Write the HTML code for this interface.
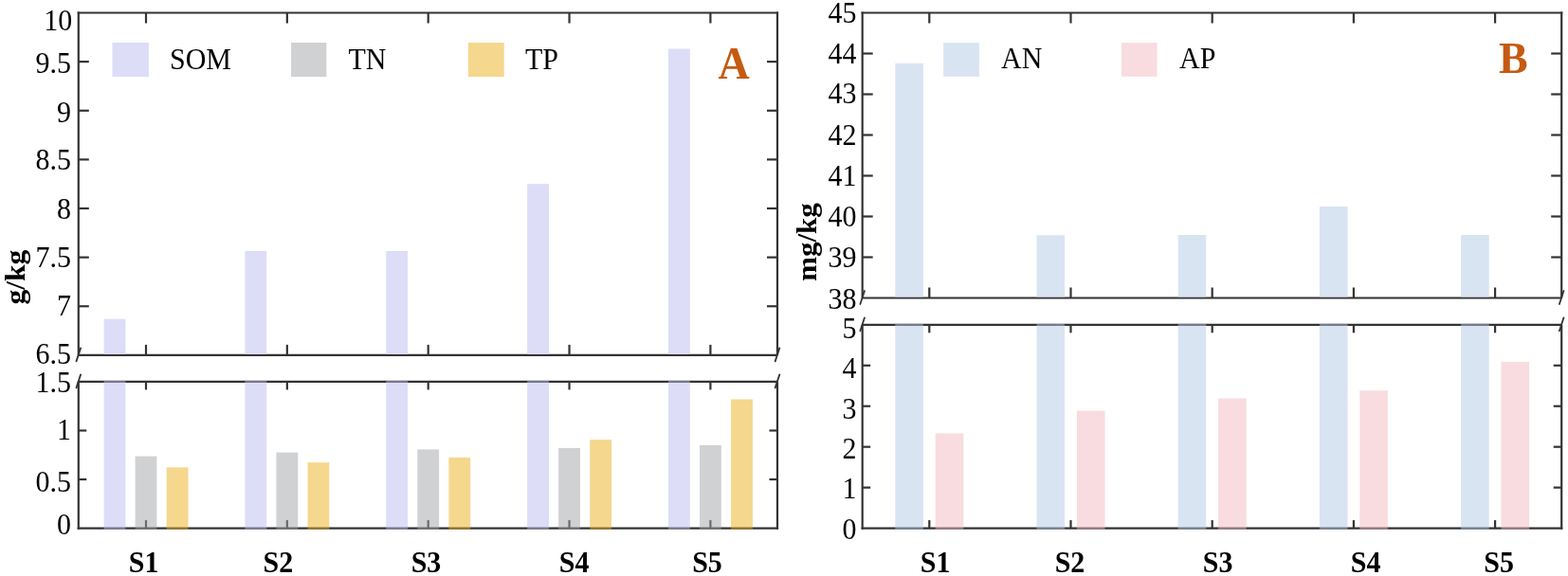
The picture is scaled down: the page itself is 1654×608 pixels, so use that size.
<!DOCTYPE html>
<html><head><meta charset="utf-8"><title>Soil nutrients</title>
<style>
html,body{margin:0;padding:0;background:#fff;}
body{width:1654px;height:608px;overflow:hidden;}
svg{display:block;}
text{font-family:"Liberation Serif","Times New Roman",serif;}
</style></head><body>
<svg width="1654" height="608" viewBox="0 0 1654 608" font-family="'Liberation Serif', 'Times New Roman', serif">
<rect width="1654" height="608" fill="#ffffff"/>
<line x1="82.80" y1="12.40" x2="82.80" y2="374.90" stroke="#333333" stroke-width="2.2" stroke-linecap="butt"/>
<line x1="820.00" y1="12.40" x2="820.00" y2="374.90" stroke="#333333" stroke-width="2.2" stroke-linecap="butt"/>
<line x1="81.70" y1="13.50" x2="821.10" y2="13.50" stroke="#333333" stroke-width="2.2" stroke-linecap="butt"/>
<line x1="82.80" y1="374.90" x2="820.00" y2="374.90" stroke="#333333" stroke-width="2.2" stroke-linecap="butt"/>
<line x1="82.80" y1="402.90" x2="82.80" y2="558.70" stroke="#333333" stroke-width="2.2" stroke-linecap="butt"/>
<line x1="820.00" y1="402.90" x2="820.00" y2="558.70" stroke="#333333" stroke-width="2.2" stroke-linecap="butt"/>
<line x1="82.80" y1="402.90" x2="820.00" y2="402.90" stroke="#333333" stroke-width="2.2" stroke-linecap="butt"/>
<line x1="81.70" y1="557.60" x2="821.10" y2="557.60" stroke="#333333" stroke-width="2.2" stroke-linecap="butt"/>
<line x1="154.00" y1="13.50" x2="154.00" y2="24.50" stroke="#333333" stroke-width="2.2" stroke-linecap="butt"/>
<line x1="154.00" y1="374.90" x2="154.00" y2="363.90" stroke="#333333" stroke-width="2.2" stroke-linecap="butt"/>
<line x1="154.00" y1="402.90" x2="154.00" y2="411.40" stroke="#333333" stroke-width="2.2" stroke-linecap="butt"/>
<line x1="154.00" y1="557.60" x2="154.00" y2="549.10" stroke="#333333" stroke-width="2.2" stroke-linecap="butt"/>
<line x1="302.85" y1="13.50" x2="302.85" y2="24.50" stroke="#333333" stroke-width="2.2" stroke-linecap="butt"/>
<line x1="302.85" y1="374.90" x2="302.85" y2="363.90" stroke="#333333" stroke-width="2.2" stroke-linecap="butt"/>
<line x1="302.85" y1="402.90" x2="302.85" y2="411.40" stroke="#333333" stroke-width="2.2" stroke-linecap="butt"/>
<line x1="302.85" y1="557.60" x2="302.85" y2="549.10" stroke="#333333" stroke-width="2.2" stroke-linecap="butt"/>
<line x1="451.70" y1="13.50" x2="451.70" y2="24.50" stroke="#333333" stroke-width="2.2" stroke-linecap="butt"/>
<line x1="451.70" y1="374.90" x2="451.70" y2="363.90" stroke="#333333" stroke-width="2.2" stroke-linecap="butt"/>
<line x1="451.70" y1="402.90" x2="451.70" y2="411.40" stroke="#333333" stroke-width="2.2" stroke-linecap="butt"/>
<line x1="451.70" y1="557.60" x2="451.70" y2="549.10" stroke="#333333" stroke-width="2.2" stroke-linecap="butt"/>
<line x1="600.55" y1="13.50" x2="600.55" y2="24.50" stroke="#333333" stroke-width="2.2" stroke-linecap="butt"/>
<line x1="600.55" y1="374.90" x2="600.55" y2="363.90" stroke="#333333" stroke-width="2.2" stroke-linecap="butt"/>
<line x1="600.55" y1="402.90" x2="600.55" y2="411.40" stroke="#333333" stroke-width="2.2" stroke-linecap="butt"/>
<line x1="600.55" y1="557.60" x2="600.55" y2="549.10" stroke="#333333" stroke-width="2.2" stroke-linecap="butt"/>
<line x1="749.40" y1="13.50" x2="749.40" y2="24.50" stroke="#333333" stroke-width="2.2" stroke-linecap="butt"/>
<line x1="749.40" y1="374.90" x2="749.40" y2="363.90" stroke="#333333" stroke-width="2.2" stroke-linecap="butt"/>
<line x1="749.40" y1="402.90" x2="749.40" y2="411.40" stroke="#333333" stroke-width="2.2" stroke-linecap="butt"/>
<line x1="749.40" y1="557.60" x2="749.40" y2="549.10" stroke="#333333" stroke-width="2.2" stroke-linecap="butt"/>
<line x1="82.80" y1="65.13" x2="93.80" y2="65.13" stroke="#333333" stroke-width="2.2" stroke-linecap="butt"/>
<line x1="820.00" y1="65.13" x2="809.00" y2="65.13" stroke="#333333" stroke-width="2.2" stroke-linecap="butt"/>
<line x1="82.80" y1="116.76" x2="93.80" y2="116.76" stroke="#333333" stroke-width="2.2" stroke-linecap="butt"/>
<line x1="820.00" y1="116.76" x2="809.00" y2="116.76" stroke="#333333" stroke-width="2.2" stroke-linecap="butt"/>
<line x1="82.80" y1="168.39" x2="93.80" y2="168.39" stroke="#333333" stroke-width="2.2" stroke-linecap="butt"/>
<line x1="820.00" y1="168.39" x2="809.00" y2="168.39" stroke="#333333" stroke-width="2.2" stroke-linecap="butt"/>
<line x1="82.80" y1="220.01" x2="93.80" y2="220.01" stroke="#333333" stroke-width="2.2" stroke-linecap="butt"/>
<line x1="820.00" y1="220.01" x2="809.00" y2="220.01" stroke="#333333" stroke-width="2.2" stroke-linecap="butt"/>
<line x1="82.80" y1="271.64" x2="93.80" y2="271.64" stroke="#333333" stroke-width="2.2" stroke-linecap="butt"/>
<line x1="820.00" y1="271.64" x2="809.00" y2="271.64" stroke="#333333" stroke-width="2.2" stroke-linecap="butt"/>
<line x1="82.80" y1="323.27" x2="93.80" y2="323.27" stroke="#333333" stroke-width="2.2" stroke-linecap="butt"/>
<line x1="820.00" y1="323.27" x2="809.00" y2="323.27" stroke="#333333" stroke-width="2.2" stroke-linecap="butt"/>
<line x1="82.80" y1="454.47" x2="91.30" y2="454.47" stroke="#333333" stroke-width="2.2" stroke-linecap="butt"/>
<line x1="820.00" y1="454.47" x2="811.50" y2="454.47" stroke="#333333" stroke-width="2.2" stroke-linecap="butt"/>
<line x1="82.80" y1="506.03" x2="91.30" y2="506.03" stroke="#333333" stroke-width="2.2" stroke-linecap="butt"/>
<line x1="820.00" y1="506.03" x2="811.50" y2="506.03" stroke="#333333" stroke-width="2.2" stroke-linecap="butt"/>
<line x1="85.10" y1="367.40" x2="80.50" y2="381.40" stroke="#333333" stroke-width="1.8" stroke-linecap="round"/>
<line x1="85.10" y1="395.40" x2="80.50" y2="409.40" stroke="#333333" stroke-width="1.8" stroke-linecap="round"/>
<line x1="822.30" y1="367.40" x2="817.70" y2="381.40" stroke="#333333" stroke-width="1.8" stroke-linecap="round"/>
<line x1="822.30" y1="395.40" x2="817.70" y2="409.40" stroke="#333333" stroke-width="1.8" stroke-linecap="round"/>
<rect x="109.60" y="336.70" width="22.80" height="37.10" fill="#DDDDF7"/>
<rect x="109.60" y="401.80" width="22.80" height="156.90" fill="#BBBBEF" fill-opacity="0.5"/>
<rect x="142.60" y="481.60" width="22.80" height="77.10" fill="#A1A3A7" fill-opacity="0.5"/>
<rect x="175.70" y="493.40" width="22.80" height="65.30" fill="#EBAF1B" fill-opacity="0.5"/>
<rect x="258.45" y="265.00" width="22.80" height="108.80" fill="#DDDDF7"/>
<rect x="258.45" y="401.80" width="22.80" height="156.90" fill="#BBBBEF" fill-opacity="0.5"/>
<rect x="291.45" y="477.60" width="22.80" height="81.10" fill="#A1A3A7" fill-opacity="0.5"/>
<rect x="324.55" y="488.20" width="22.80" height="70.50" fill="#EBAF1B" fill-opacity="0.5"/>
<rect x="407.30" y="265.00" width="22.80" height="108.80" fill="#DDDDF7"/>
<rect x="407.30" y="401.80" width="22.80" height="156.90" fill="#BBBBEF" fill-opacity="0.5"/>
<rect x="440.30" y="474.40" width="22.80" height="84.30" fill="#A1A3A7" fill-opacity="0.5"/>
<rect x="473.40" y="482.90" width="22.80" height="75.80" fill="#EBAF1B" fill-opacity="0.5"/>
<rect x="556.15" y="194.20" width="22.80" height="179.60" fill="#DDDDF7"/>
<rect x="556.15" y="401.80" width="22.80" height="156.90" fill="#BBBBEF" fill-opacity="0.5"/>
<rect x="589.15" y="472.90" width="22.80" height="85.80" fill="#A1A3A7" fill-opacity="0.5"/>
<rect x="622.25" y="464.10" width="22.80" height="94.60" fill="#EBAF1B" fill-opacity="0.5"/>
<rect x="705.00" y="51.50" width="22.80" height="322.30" fill="#DDDDF7"/>
<rect x="705.00" y="401.80" width="22.80" height="156.90" fill="#BBBBEF" fill-opacity="0.5"/>
<rect x="738.00" y="469.90" width="22.80" height="88.80" fill="#A1A3A7" fill-opacity="0.5"/>
<rect x="771.10" y="421.50" width="22.80" height="137.20" fill="#EBAF1B" fill-opacity="0.5"/>
<text transform="translate(76.20,31.85) scale(1,1.03)" font-size="30" text-anchor="end" font-weight="normal" fill="#000">10</text>
<text transform="translate(75.00,77.38) scale(1,1.03)" font-size="30" text-anchor="end" font-weight="normal" fill="#000">9.5</text>
<text transform="translate(75.00,128.71) scale(1,1.03)" font-size="30" text-anchor="end" font-weight="normal" fill="#000">9</text>
<text transform="translate(75.00,179.44) scale(1,1.03)" font-size="30" text-anchor="end" font-weight="normal" fill="#000">8.5</text>
<text transform="translate(75.00,230.66) scale(1,1.03)" font-size="30" text-anchor="end" font-weight="normal" fill="#000">8</text>
<text transform="translate(75.00,281.79) scale(1,1.03)" font-size="30" text-anchor="end" font-weight="normal" fill="#000">7.5</text>
<text transform="translate(75.00,333.12) scale(1,1.03)" font-size="30" text-anchor="end" font-weight="normal" fill="#000">7</text>
<text transform="translate(75.00,384.25) scale(1,1.03)" font-size="30" text-anchor="end" font-weight="normal" fill="#000">6.5</text>
<text transform="translate(75.00,413.55) scale(1,1.03)" font-size="30" text-anchor="end" font-weight="normal" fill="#000">1.5</text>
<text transform="translate(75.00,463.92) scale(1,1.03)" font-size="30" text-anchor="end" font-weight="normal" fill="#000">1</text>
<text transform="translate(75.00,519.08) scale(1,1.03)" font-size="30" text-anchor="end" font-weight="normal" fill="#000">0.5</text>
<text transform="translate(75.00,563.85) scale(1,1.03)" font-size="30" text-anchor="end" font-weight="normal" fill="#000">0</text>
<rect x="118.50" y="45.00" width="38.40" height="36.00" fill="#DDDDF7"/>
<rect x="307.10" y="45.00" width="37.20" height="36.00" fill="#D0D1D3"/>
<rect x="493.90" y="45.00" width="37.80" height="36.00" fill="#F5D78D"/>
<text transform="translate(179.00,72.50) scale(1,1.06)" font-size="30" text-anchor="start" font-weight="normal" fill="#000">SOM</text>
<text transform="translate(367.50,72.50) scale(1,1.06)" font-size="30" text-anchor="start" font-weight="normal" fill="#000">TN</text>
<text transform="translate(554.00,72.50) scale(1,1.06)" font-size="30" text-anchor="start" font-weight="normal" fill="#000">TP</text>
<text transform="translate(757.50,82.50) scale(1,1.04)" font-size="46" text-anchor="start" font-weight="bold" fill="#C55A11">A</text>
<text transform="translate(151.60,604.00) scale(1,1.06)" font-size="30" text-anchor="middle" font-weight="bold" fill="#000">S1</text>
<text transform="translate(293.40,604.00) scale(1,1.06)" font-size="30" text-anchor="middle" font-weight="bold" fill="#000">S2</text>
<text transform="translate(449.50,604.00) scale(1,1.06)" font-size="30" text-anchor="middle" font-weight="bold" fill="#000">S3</text>
<text transform="translate(605.60,604.00) scale(1,1.06)" font-size="30" text-anchor="middle" font-weight="bold" fill="#000">S4</text>
<text transform="translate(746.00,604.00) scale(1,1.06)" font-size="30" text-anchor="middle" font-weight="bold" fill="#000">S5</text>
<text transform="translate(25.5,292.7) rotate(-90) scale(1.05,1)" font-size="30" font-weight="bold" text-anchor="middle">g/kg</text>
<line x1="909.70" y1="12.40" x2="909.70" y2="314.50" stroke="#333333" stroke-width="2.2" stroke-linecap="butt"/>
<line x1="1647.20" y1="12.40" x2="1647.20" y2="314.50" stroke="#333333" stroke-width="2.2" stroke-linecap="butt"/>
<line x1="908.60" y1="13.50" x2="1648.30" y2="13.50" stroke="#333333" stroke-width="2.2" stroke-linecap="butt"/>
<line x1="909.70" y1="314.50" x2="1647.20" y2="314.50" stroke="#333333" stroke-width="2.2" stroke-linecap="butt"/>
<line x1="909.70" y1="342.80" x2="909.70" y2="558.70" stroke="#333333" stroke-width="2.2" stroke-linecap="butt"/>
<line x1="1647.20" y1="342.80" x2="1647.20" y2="558.70" stroke="#333333" stroke-width="2.2" stroke-linecap="butt"/>
<line x1="909.70" y1="342.80" x2="1647.20" y2="342.80" stroke="#333333" stroke-width="2.2" stroke-linecap="butt"/>
<line x1="908.60" y1="557.60" x2="1648.30" y2="557.60" stroke="#333333" stroke-width="2.2" stroke-linecap="butt"/>
<rect x="944.30" y="66.80" width="29.60" height="246.60" fill="#D9E4F3"/>
<rect x="944.30" y="341.70" width="29.60" height="217.00" fill="#B3C9E7" fill-opacity="0.5"/>
<rect x="986.70" y="457.50" width="29.60" height="101.20" fill="#F1B9BF" fill-opacity="0.5"/>
<rect x="1093.50" y="248.30" width="29.60" height="65.10" fill="#D9E4F3"/>
<rect x="1093.50" y="341.70" width="29.60" height="217.00" fill="#B3C9E7" fill-opacity="0.5"/>
<rect x="1135.90" y="433.60" width="29.60" height="125.10" fill="#F1B9BF" fill-opacity="0.5"/>
<rect x="1242.70" y="248.00" width="29.60" height="65.40" fill="#D9E4F3"/>
<rect x="1242.70" y="341.70" width="29.60" height="217.00" fill="#B3C9E7" fill-opacity="0.5"/>
<rect x="1285.10" y="420.50" width="29.60" height="138.20" fill="#F1B9BF" fill-opacity="0.5"/>
<rect x="1391.90" y="218.00" width="29.60" height="95.40" fill="#D9E4F3"/>
<rect x="1391.90" y="341.70" width="29.60" height="217.00" fill="#B3C9E7" fill-opacity="0.5"/>
<rect x="1434.30" y="412.30" width="29.60" height="146.40" fill="#F1B9BF" fill-opacity="0.5"/>
<rect x="1541.10" y="248.00" width="29.60" height="65.40" fill="#D9E4F3"/>
<rect x="1541.10" y="341.70" width="29.60" height="217.00" fill="#B3C9E7" fill-opacity="0.5"/>
<rect x="1583.50" y="381.80" width="29.60" height="176.90" fill="#F1B9BF" fill-opacity="0.5"/>
<line x1="980.30" y1="13.50" x2="980.30" y2="24.50" stroke="#333333" stroke-width="2.2" stroke-linecap="butt"/>
<line x1="980.30" y1="314.50" x2="980.30" y2="303.50" stroke="#333333" stroke-width="2.2" stroke-linecap="butt"/>
<line x1="980.30" y1="342.80" x2="980.30" y2="351.30" stroke="#333333" stroke-width="2.2" stroke-linecap="butt"/>
<line x1="980.30" y1="557.60" x2="980.30" y2="549.10" stroke="#333333" stroke-width="2.2" stroke-linecap="butt"/>
<line x1="1129.50" y1="13.50" x2="1129.50" y2="24.50" stroke="#333333" stroke-width="2.2" stroke-linecap="butt"/>
<line x1="1129.50" y1="314.50" x2="1129.50" y2="303.50" stroke="#333333" stroke-width="2.2" stroke-linecap="butt"/>
<line x1="1129.50" y1="342.80" x2="1129.50" y2="351.30" stroke="#333333" stroke-width="2.2" stroke-linecap="butt"/>
<line x1="1129.50" y1="557.60" x2="1129.50" y2="549.10" stroke="#333333" stroke-width="2.2" stroke-linecap="butt"/>
<line x1="1278.70" y1="13.50" x2="1278.70" y2="24.50" stroke="#333333" stroke-width="2.2" stroke-linecap="butt"/>
<line x1="1278.70" y1="314.50" x2="1278.70" y2="303.50" stroke="#333333" stroke-width="2.2" stroke-linecap="butt"/>
<line x1="1278.70" y1="342.80" x2="1278.70" y2="351.30" stroke="#333333" stroke-width="2.2" stroke-linecap="butt"/>
<line x1="1278.70" y1="557.60" x2="1278.70" y2="549.10" stroke="#333333" stroke-width="2.2" stroke-linecap="butt"/>
<line x1="1427.90" y1="13.50" x2="1427.90" y2="24.50" stroke="#333333" stroke-width="2.2" stroke-linecap="butt"/>
<line x1="1427.90" y1="314.50" x2="1427.90" y2="303.50" stroke="#333333" stroke-width="2.2" stroke-linecap="butt"/>
<line x1="1427.90" y1="342.80" x2="1427.90" y2="351.30" stroke="#333333" stroke-width="2.2" stroke-linecap="butt"/>
<line x1="1427.90" y1="557.60" x2="1427.90" y2="549.10" stroke="#333333" stroke-width="2.2" stroke-linecap="butt"/>
<line x1="1577.10" y1="13.50" x2="1577.10" y2="24.50" stroke="#333333" stroke-width="2.2" stroke-linecap="butt"/>
<line x1="1577.10" y1="314.50" x2="1577.10" y2="303.50" stroke="#333333" stroke-width="2.2" stroke-linecap="butt"/>
<line x1="1577.10" y1="342.80" x2="1577.10" y2="351.30" stroke="#333333" stroke-width="2.2" stroke-linecap="butt"/>
<line x1="1577.10" y1="557.60" x2="1577.10" y2="549.10" stroke="#333333" stroke-width="2.2" stroke-linecap="butt"/>
<line x1="909.70" y1="56.50" x2="920.70" y2="56.50" stroke="#333333" stroke-width="2.2" stroke-linecap="butt"/>
<line x1="1647.20" y1="56.50" x2="1636.20" y2="56.50" stroke="#333333" stroke-width="2.2" stroke-linecap="butt"/>
<line x1="909.70" y1="99.50" x2="920.70" y2="99.50" stroke="#333333" stroke-width="2.2" stroke-linecap="butt"/>
<line x1="1647.20" y1="99.50" x2="1636.20" y2="99.50" stroke="#333333" stroke-width="2.2" stroke-linecap="butt"/>
<line x1="909.70" y1="142.50" x2="920.70" y2="142.50" stroke="#333333" stroke-width="2.2" stroke-linecap="butt"/>
<line x1="1647.20" y1="142.50" x2="1636.20" y2="142.50" stroke="#333333" stroke-width="2.2" stroke-linecap="butt"/>
<line x1="909.70" y1="185.50" x2="920.70" y2="185.50" stroke="#333333" stroke-width="2.2" stroke-linecap="butt"/>
<line x1="1647.20" y1="185.50" x2="1636.20" y2="185.50" stroke="#333333" stroke-width="2.2" stroke-linecap="butt"/>
<line x1="909.70" y1="228.50" x2="920.70" y2="228.50" stroke="#333333" stroke-width="2.2" stroke-linecap="butt"/>
<line x1="1647.20" y1="228.50" x2="1636.20" y2="228.50" stroke="#333333" stroke-width="2.2" stroke-linecap="butt"/>
<line x1="909.70" y1="271.50" x2="920.70" y2="271.50" stroke="#333333" stroke-width="2.2" stroke-linecap="butt"/>
<line x1="1647.20" y1="271.50" x2="1636.20" y2="271.50" stroke="#333333" stroke-width="2.2" stroke-linecap="butt"/>
<line x1="909.70" y1="385.76" x2="918.20" y2="385.76" stroke="#333333" stroke-width="2.2" stroke-linecap="butt"/>
<line x1="1647.20" y1="385.76" x2="1638.70" y2="385.76" stroke="#333333" stroke-width="2.2" stroke-linecap="butt"/>
<line x1="909.70" y1="428.72" x2="918.20" y2="428.72" stroke="#333333" stroke-width="2.2" stroke-linecap="butt"/>
<line x1="1647.20" y1="428.72" x2="1638.70" y2="428.72" stroke="#333333" stroke-width="2.2" stroke-linecap="butt"/>
<line x1="909.70" y1="471.68" x2="918.20" y2="471.68" stroke="#333333" stroke-width="2.2" stroke-linecap="butt"/>
<line x1="1647.20" y1="471.68" x2="1638.70" y2="471.68" stroke="#333333" stroke-width="2.2" stroke-linecap="butt"/>
<line x1="909.70" y1="514.64" x2="918.20" y2="514.64" stroke="#333333" stroke-width="2.2" stroke-linecap="butt"/>
<line x1="1647.20" y1="514.64" x2="1638.70" y2="514.64" stroke="#333333" stroke-width="2.2" stroke-linecap="butt"/>
<line x1="912.00" y1="307.00" x2="907.40" y2="321.00" stroke="#333333" stroke-width="1.8" stroke-linecap="round"/>
<line x1="912.00" y1="335.30" x2="907.40" y2="349.30" stroke="#333333" stroke-width="1.8" stroke-linecap="round"/>
<line x1="1649.50" y1="307.00" x2="1644.90" y2="321.00" stroke="#333333" stroke-width="1.8" stroke-linecap="round"/>
<line x1="1649.50" y1="335.30" x2="1644.90" y2="349.30" stroke="#333333" stroke-width="1.8" stroke-linecap="round"/>
<text transform="translate(903.40,23.55) scale(1,1.03)" font-size="30" text-anchor="end" font-weight="normal" fill="#000">45</text>
<text transform="translate(903.40,66.85) scale(1,1.03)" font-size="30" text-anchor="end" font-weight="normal" fill="#000">44</text>
<text transform="translate(903.40,109.25) scale(1,1.03)" font-size="30" text-anchor="end" font-weight="normal" fill="#000">43</text>
<text transform="translate(903.40,152.85) scale(1,1.03)" font-size="30" text-anchor="end" font-weight="normal" fill="#000">42</text>
<text transform="translate(903.40,195.85) scale(1,1.03)" font-size="30" text-anchor="end" font-weight="normal" fill="#000">41</text>
<text transform="translate(903.40,238.85) scale(1,1.03)" font-size="30" text-anchor="end" font-weight="normal" fill="#000">40</text>
<text transform="translate(903.40,282.45) scale(1,1.03)" font-size="30" text-anchor="end" font-weight="normal" fill="#000">39</text>
<text transform="translate(903.40,325.95) scale(1,1.03)" font-size="30" text-anchor="end" font-weight="normal" fill="#000">38</text>
<text transform="translate(903.40,356.85) scale(1,1.03)" font-size="30" text-anchor="end" font-weight="normal" fill="#000">5</text>
<text transform="translate(903.40,399.21) scale(1,1.03)" font-size="30" text-anchor="end" font-weight="normal" fill="#000">4</text>
<text transform="translate(903.40,441.87) scale(1,1.03)" font-size="30" text-anchor="end" font-weight="normal" fill="#000">3</text>
<text transform="translate(903.40,483.83) scale(1,1.03)" font-size="30" text-anchor="end" font-weight="normal" fill="#000">2</text>
<text transform="translate(903.40,525.79) scale(1,1.03)" font-size="30" text-anchor="end" font-weight="normal" fill="#000">1</text>
<text transform="translate(903.40,568.55) scale(1,1.03)" font-size="30" text-anchor="end" font-weight="normal" fill="#000">0</text>
<rect x="995.20" y="45.20" width="37.70" height="35.60" fill="#D9E4F3"/>
<rect x="1183.10" y="45.20" width="37.50" height="35.60" fill="#F8DCDF"/>
<text transform="translate(1056.00,71.80) scale(1,1.04)" font-size="30" text-anchor="start" font-weight="normal" fill="#000">AN</text>
<text transform="translate(1244.00,71.80) scale(1,1.04)" font-size="30" text-anchor="start" font-weight="normal" fill="#000">AP</text>
<text transform="translate(1581.00,77.00) scale(1,1.0)" font-size="46" text-anchor="start" font-weight="bold" fill="#C55A11">B</text>
<text transform="translate(986.70,604.00) scale(1,1.06)" font-size="30" text-anchor="middle" font-weight="bold" fill="#000">S1</text>
<text transform="translate(1128.50,604.00) scale(1,1.06)" font-size="30" text-anchor="middle" font-weight="bold" fill="#000">S2</text>
<text transform="translate(1284.60,604.00) scale(1,1.06)" font-size="30" text-anchor="middle" font-weight="bold" fill="#000">S3</text>
<text transform="translate(1440.70,604.00) scale(1,1.06)" font-size="30" text-anchor="middle" font-weight="bold" fill="#000">S4</text>
<text transform="translate(1581.20,604.00) scale(1,1.06)" font-size="30" text-anchor="middle" font-weight="bold" fill="#000">S5</text>
<text transform="translate(861,255.6) rotate(-90) scale(1.03,1)" font-size="30" font-weight="bold" text-anchor="middle">mg/kg</text>
</svg>
</body></html>
